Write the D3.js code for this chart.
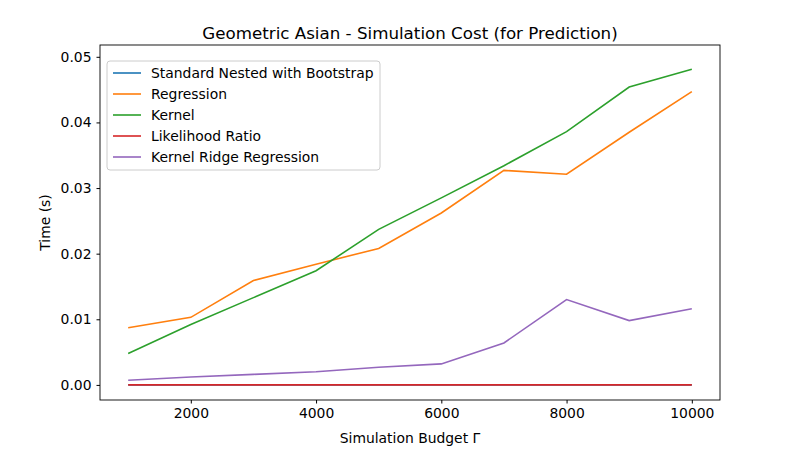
<!DOCTYPE html>
<html><head><meta charset="utf-8">
<script src="https://cdn.jsdelivr.net/npm/d3@7"></script>
<style>body{margin:0;background:#fff}text{font-family:"DejaVu Sans",sans-serif}</style>
</head><body><svg id="c" width="800" height="450"></svg>
<script>
var budgets = [1000,2000,3000,4000,5000,6000,7000,8000,9000,10000];
var standardNested = [0,0,0,0,0,0,0,0,0,0];
var regression = [0.0087,0.0103,0.0159,0.0184,0.0208,0.0262,0.0327,0.0321,0.0385,0.0447];
var kernel = [0.0048,0.0092,0.0133,0.0174,0.0237,0.0285,0.0334,0.0386,0.0454,0.0481];
var likelihoodRatio = [0,0,0,0,0,0,0,0,0,0];
var krr = [0.0007,0.0012,0.0016,0.0020,0.0027,0.0032,0.0064,0.0130,0.0098,0.0116];
var xTicks = [2000,4000,6000,8000,10000];
var yTicks = [0,0.01,0.02,0.03,0.04,0.05];

var series = [
  {name:"Standard Nested with Bootstrap", values:standardNested, color:"#1f77b4"},
  {name:"Regression", values:regression, color:"#ff7f0e"},
  {name:"Kernel", values:kernel, color:"#2ca02c"},
  {name:"Likelihood Ratio", values:likelihoodRatio, color:"#d62728"},
  {name:"Kernel Ridge Regression", values:krr, color:"#9467bd"}
];

var L=100,R=720,T=45,B=400,FS=13.9;
var svg=d3.select("#c");
var x=d3.scaleLinear().domain([550,10450]).range([L,R]);
var y=d3.scaleLinear().domain([-0.0023,0.0518]).range([B,T]);

svg.append("g").attr("transform","translate(0,"+B+")")
  .call(d3.axisBottom(x).tickValues(xTicks).tickFormat(d3.format("d")).tickSizeOuter(0).tickSize(3.5).tickPadding(5))
  .call(g=>g.select(".domain").remove()).selectAll("text").attr("font-size",FS);
svg.append("g").attr("transform","translate("+L+",0)")
  .call(d3.axisLeft(y).tickValues(yTicks).tickFormat(d3.format(".2f")).tickSize(3.5).tickPadding(5))
  .call(g=>g.select(".domain").remove()).selectAll("text").attr("font-size",FS);

var line=d3.line().x((d,i)=>x(budgets[i])).y(d=>y(d));
series.forEach(s=>{
  svg.append("path").datum(s.values).attr("d",line).attr("fill","none")
    .attr("stroke",s.color).attr("stroke-width",1.6);
});

svg.append("rect").attr("x",L).attr("y",T).attr("width",R-L).attr("height",B-T)
  .attr("fill","none").attr("stroke","#000").attr("stroke-width",0.9);

svg.append("text").attr("x",(L+R)/2).attr("y",T-6).attr("text-anchor","middle").attr("font-size",16.7)
  .text("Geometric Asian - Simulation Cost (for Prediction)");
svg.append("text").attr("x",(L+R)/2).attr("y",443).attr("text-anchor","middle").attr("font-size",FS)
  .text("Simulation Budget Γ");
svg.append("text").attr("transform","translate(50,"+((T+B)/2)+") rotate(-90)").attr("text-anchor","middle").attr("font-size",FS)
  .text("Time (s)");

var lg=svg.append("g").attr("transform","translate(107,61)");
lg.append("rect").attr("width",273).attr("height",109).attr("rx",3).attr("fill","#fff")
  .attr("fill-opacity",0.8).attr("stroke","#ccc");
series.forEach((s,i)=>{
  var yy=12+i*21;
  lg.append("line").attr("x1",6).attr("x2",34).attr("y1",yy).attr("y2",yy).attr("stroke",s.color).attr("stroke-width",1.6);
  lg.append("text").attr("x",44).attr("y",yy+5).attr("font-size",FS).text(s.name);
});
</script></body></html>
